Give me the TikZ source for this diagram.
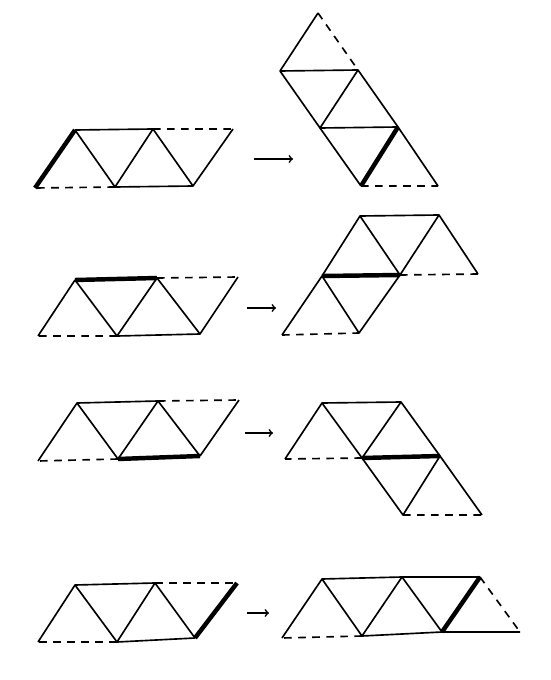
\documentclass[tikz,border=0pt]{standalone}
\usepackage{tikz}

\begin{document}
\begin{tikzpicture}[x=0.03cm, y=-0.03cm, line join=round,
  edge/.style={draw, line width=1.4pt},
  cut/.style={draw, line width=1.4pt, dash pattern=on 6.5pt off 5.5pt},
  fold/.style={draw, line width=3.8pt},
  move/.style={->, line width=1.4pt}]
  \useasboundingbox (0,0) rectangle (550,680);
  % row 1, left strip
  \coordinate (a1) at (35,188);  \coordinate (a2) at (75,130);
  \coordinate (a3) at (153,129); \coordinate (a4) at (233,129);
  \coordinate (a5) at (115,187); \coordinate (a6) at (193,186);
  \draw[fold] (a1) -- (a2);
  \draw[edge] (a2) -- (a3) (a4) -- (a6) -- (a5);
  \draw[edge] (a2) -- (a5) -- (a3) -- (a6);
  \draw[cut] (a3) -- (a4) (a5) -- (a1);
  % row 1, right strip
  \coordinate (b1) at (318,13);  \coordinate (b2) at (280,71);
  \coordinate (b3) at (358,70);  \coordinate (b4) at (320,128);
  \coordinate (b5) at (398,127); \coordinate (b6) at (361,186);
  \coordinate (b7) at (438,186);
  \draw[edge] (b1) -- (b2) -- (b3) (b2) -- (b4) -- (b3) -- (b5);
  \draw[edge] (b4) -- (b5) -- (b7) (b4) -- (b6);
  \draw[fold] (b5) -- (b6);
  \draw[cut] (b1) -- (b3) (b6) -- (b7);
  \coordinate (s1) at (254,159); \coordinate (t1) at (293,159);
  \draw[move] (s1) -- (t1);
  % row 2, left strip
  \coordinate (c1) at (38,336);  \coordinate (c2) at (75,280);
  \coordinate (c3) at (157,278); \coordinate (c4) at (238,277);
  \coordinate (c5) at (117,336); \coordinate (c6) at (200,334);
  \draw[fold] (c2) -- (c3);
  \draw[edge] (c1) -- (c2) (c4) -- (c6) -- (c5);
  \draw[edge] (c2) -- (c5) -- (c3) -- (c6);
  \draw[cut] (c3) -- (c4) (c5) -- (c1);
  % row 2, right strip
  \coordinate (d1) at (360,216); \coordinate (d2) at (439,215);
  \coordinate (d3) at (322,276); \coordinate (d4) at (400,275);
  \coordinate (d5) at (478,274); \coordinate (d6) at (282,335);
  \coordinate (d7) at (359,333);
  \draw[edge] (d3) -- (d1) -- (d2) -- (d5) (d1) -- (d4) -- (d2);
  \draw[edge] (d3) -- (d6) (d3) -- (d7) -- (d4);
  \draw[fold] (d3) -- (d4);
  \draw[cut] (d4) -- (d5) (d6) -- (d7);
  \coordinate (s2) at (247,308); \coordinate (t2) at (276,308);
  \draw[move] (s2) -- (t2);
  % row 3, left strip
  \coordinate (e1) at (38,461);  \coordinate (e2) at (77,403);
  \coordinate (e3) at (158,401); \coordinate (e4) at (239,400);
  \coordinate (e5) at (118,459); \coordinate (e6) at (200,456);
  \draw[fold] (e5) -- (e6);
  \draw[edge] (e1) -- (e2) -- (e3) (e4) -- (e6);
  \draw[edge] (e2) -- (e5) -- (e3) -- (e6);
  \draw[cut] (e3) -- (e4) (e5) -- (e1);
  % row 3, right strip
  \coordinate (f1) at (322,403); \coordinate (f2) at (401,402);
  \coordinate (f3) at (285,459); \coordinate (f4) at (362,458);
  \coordinate (f5) at (440,456); \coordinate (f6) at (403,515);
  \coordinate (f7) at (482,515);
  \draw[edge] (f3) -- (f1) -- (f2) -- (f5) (f1) -- (f4) -- (f2);
  \draw[edge] (f4) -- (f6) -- (f5) -- (f7);
  \draw[fold] (f4) -- (f5);
  \draw[cut] (f4) -- (f3) (f6) -- (f7);
  \coordinate (s3) at (245,433); \coordinate (t3) at (273,433);
  \draw[move] (s3) -- (t3);
  % row 4, left strip
  \coordinate (g1) at (38,642);  \coordinate (g2) at (75,585);
  \coordinate (g3) at (155,583); \coordinate (g4) at (237,583);
  \coordinate (g5) at (117,642); \coordinate (g6) at (195,638);
  \draw[fold] (g4) -- (g6);
  \draw[edge] (g1) -- (g2) -- (g3) (g6) -- (g5);
  \draw[edge] (g2) -- (g5) -- (g3) -- (g6);
  \draw[cut] (g3) -- (g4) (g5) -- (g1);
  % row 4, right strip
  \coordinate (h1) at (282,638); \coordinate (h2) at (322,579);
  \coordinate (h3) at (402,577); \coordinate (h4) at (480,577);
  \coordinate (h5) at (362,636); \coordinate (h6) at (442,632);
  \coordinate (h7) at (520,632);
  \draw[edge] (h1) -- (h2) -- (h3) -- (h4) (h7) -- (h6) -- (h5);
  \draw[edge] (h2) -- (h5) -- (h3) -- (h6);
  \draw[fold] (h6) -- (h4);
  \draw[cut] (h4) -- (h7) (h5) -- (h1);
  \coordinate (s4) at (247,613); \coordinate (t4) at (269,613);
  \draw[move] (s4) -- (t4);
\end{tikzpicture}
\end{document}
